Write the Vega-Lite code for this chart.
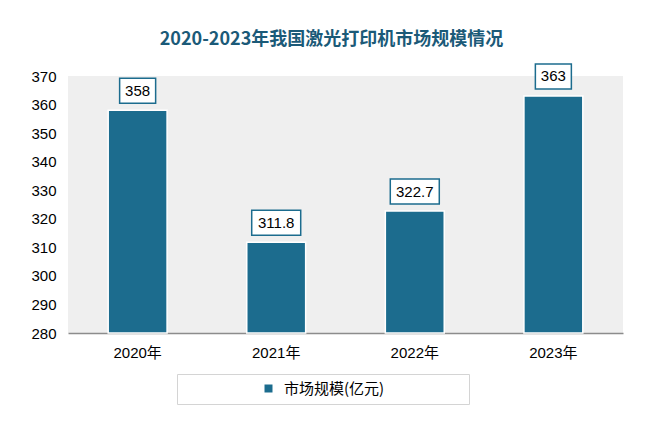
{
  "$schema": "https://vega.github.io/schema/vega-lite/v6.json",
  "width": 555,
  "height": 257,
  "autosize": {"type": "none"},
  "padding": {"left": 68, "top": 76, "right": 36, "bottom": 101},
  "background": "#ffffff",
  "title": {
    "text": "2020-2023年我国激光打印机市场规模情况",
    "font": "Noto Sans CJK SC",
    "fontSize": 18,
    "fontWeight": "bold",
    "color": "#1b5a78",
    "anchor": "middle",
    "dx": -14,
    "offset": 14
  },
  "config": {
    "view": {"fill": "#efefef", "stroke": null},
    "font": "Liberation Sans"
  },
  "data": {
    "values": [
      {"year": "2020年", "value": 358, "label": "358", "series": "市场规模(亿元)"},
      {"year": "2021年", "value": 311.8, "label": "311.8", "series": "市场规模(亿元)"},
      {"year": "2022年", "value": 322.7, "label": "322.7", "series": "市场规模(亿元)"},
      {"year": "2023年", "value": 363, "label": "363", "series": "市场规模(亿元)"}
    ]
  },
  "encoding": {
    "x": {
      "field": "year",
      "type": "nominal",
      "sort": null,
      "scale": {"paddingInner": 0.575, "paddingOuter": 0.29},
      "axis": {
        "title": null,
        "labelAngle": 0,
        "labelFont": "Liberation Sans, Noto Sans CJK SC",
        "labelFontSize": 15,
        "labelColor": "#000000",
        "labelPadding": 12,
        "ticks": false,
        "domainColor": "#8c8c8c",
        "domainWidth": 1.5
      }
    },
    "y": {
      "field": "value",
      "type": "quantitative",
      "scale": {"domain": [280, 370], "zero": false, "nice": false},
      "axis": {
        "title": null,
        "values": [280, 290, 300, 310, 320, 330, 340, 350, 360, 370],
        "labelOverlap": false,
        "labelBound": false,
        "grid": false,
        "domain": false,
        "ticks": false,
        "labelFont": "Liberation Sans",
        "labelFontSize": 15,
        "labelColor": "#000000",
        "labelPadding": 12
      }
    }
  },
  "layer": [
    {
      "mark": {"type": "bar", "stroke": "#ffffff", "strokeWidth": 1.5},
      "encoding": {
        "y2": {"datum": 280},
        "color": {
          "field": "series",
          "type": "nominal",
          "scale": {"range": ["#1c6c8e"]},
          "legend": {
            "title": "\u3000",
            "titleOrient": "right",
            "titleFontSize": 10,
            "titlePadding": 78,
            "orient": "none",
            "legendX": 109,
            "legendY": 298,
            "padding": 7,
            "symbolType": "square",
            "symbolSize": 90,
            "symbolOffset": 77,
            "labelFont": "Noto Sans CJK SC",
            "labelFontSize": 15,
            "labelColor": "#000000",
            "labelOffset": 8,
            "strokeColor": "#d4d4d4",
            "fillColor": "#ffffff"
          }
        }
      }
    },
    {
      "mark": {"type": "bar", "fill": "#ffffff", "stroke": "#1c6c8e", "strokeWidth": 1.5, "yOffset": -32, "y2Offset": -7},
      "encoding": {
        "y2": {"field": "value"},
        "size": {"condition": {"test": "datum.value % 1 == 0", "value": 36}, "value": 49}
      }
    },
    {
      "mark": {"type": "text", "font": "Liberation Sans", "fontSize": 15, "color": "#000000", "baseline": "middle", "yOffset": -19.5},
      "encoding": {
        "text": {"field": "label"}
      }
    }
  ]
}
